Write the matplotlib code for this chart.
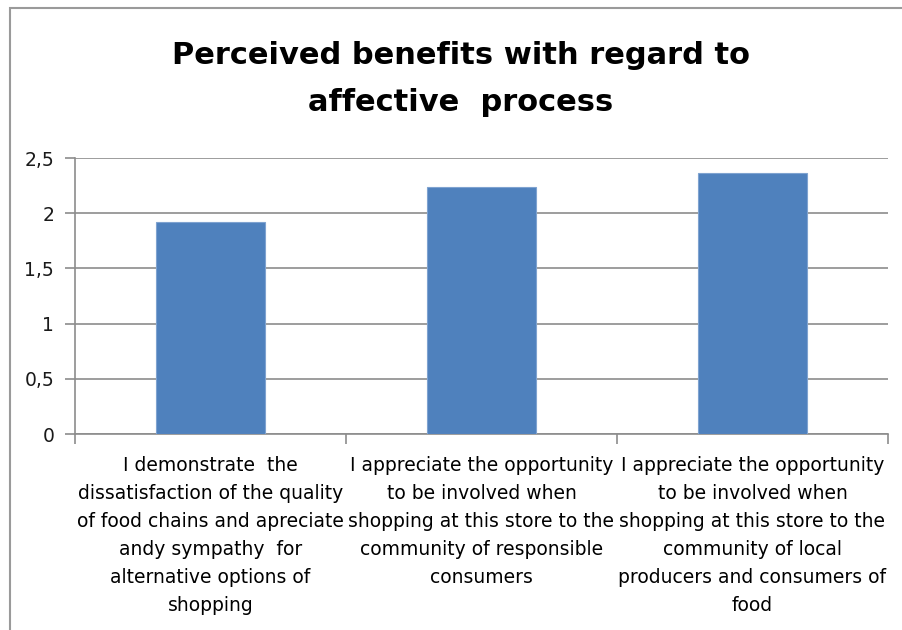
import matplotlib
matplotlib.use("Agg")
import matplotlib.pyplot as plt
from matplotlib.lines import Line2D
from matplotlib.ticker import FixedLocator, FuncFormatter

plt.rcParams["font.family"] = ["DejaVu Sans"]

# mean scores per statement
statements = [
    "I demonstrate  the\ndissatisfaction of the quality\nof food chains and apreciate\nandy sympathy  for\nalternative options of\nshopping",
    "I appreciate the opportunity\nto be involved when\nshopping at this store to the\ncommunity of responsible\nconsumers",
    "I appreciate the opportunity\nto be involved when\nshopping at this store to the\ncommunity of local\nproducers and consumers of\nfood",
]
scores = [1.92, 2.24, 2.36]
y_ticks = [0, 0.5, 1, 1.5, 2, 2.5]

BAR = "#4F81BD"
GRID = "#8C8C8C"

W, H = 903, 630
fig = plt.figure(figsize=(W / 100, H / 100), dpi=100)

# chart frame: only the left and top edges fall inside the image
fx, fy = 10 / W, 1 - 8 / H
fig.add_artist(Line2D([fx, fx, 1.0], [0.0, fy, fy], transform=fig.transFigure,
                      color="#9A9A9A", lw=1.5, solid_joinstyle="miter"))

fig.text(461 / W, 1 - 79 / H, "Perceived benefits with regard to\naffective  process",
         ha="center", va="center", fontsize=22, fontweight="bold", linespacing=1.75)

ax = fig.add_axes([75 / W, 1 - 434 / H, (888 - 75) / W, (434 - 158) / H])
x = list(range(len(scores)))
ax.bar(x, scores, width=0.4, color=BAR, edgecolor="#7FA3D0", lw=0.8, zorder=3)

ax.set_xlim(-0.5, len(scores) - 0.5)
ax.set_ylim(0, 2.5)
ax.yaxis.set_major_locator(FixedLocator(y_ticks))
ax.yaxis.set_major_formatter(FuncFormatter(lambda v, p: f"{v:g}".replace(".", ",")))
ax.grid(axis="y", color=GRID, lw=1.2, zorder=0)

ax.set_xticks(x)
ax.set_xticklabels(statements, fontsize=13.5, linespacing=1.6)
ax.xaxis.set_minor_locator(FixedLocator([i - 0.5 for i in range(len(scores) + 1)]))
ax.tick_params(axis="x", which="major", length=0, pad=16)
ax.tick_params(axis="x", which="minor", length=7, color=GRID, width=1.2)
ax.tick_params(axis="y", length=7, color=GRID, width=1.2, labelsize=13.5, pad=8,
               labelcolor="#1a1a1a")

for side in ("top", "right"):
    ax.spines[side].set_visible(False)
for side in ("left", "bottom"):
    ax.spines[side].set_color(GRID)
    ax.spines[side].set_linewidth(1.2)

fig.savefig("out.png", dpi=100, facecolor="white")
